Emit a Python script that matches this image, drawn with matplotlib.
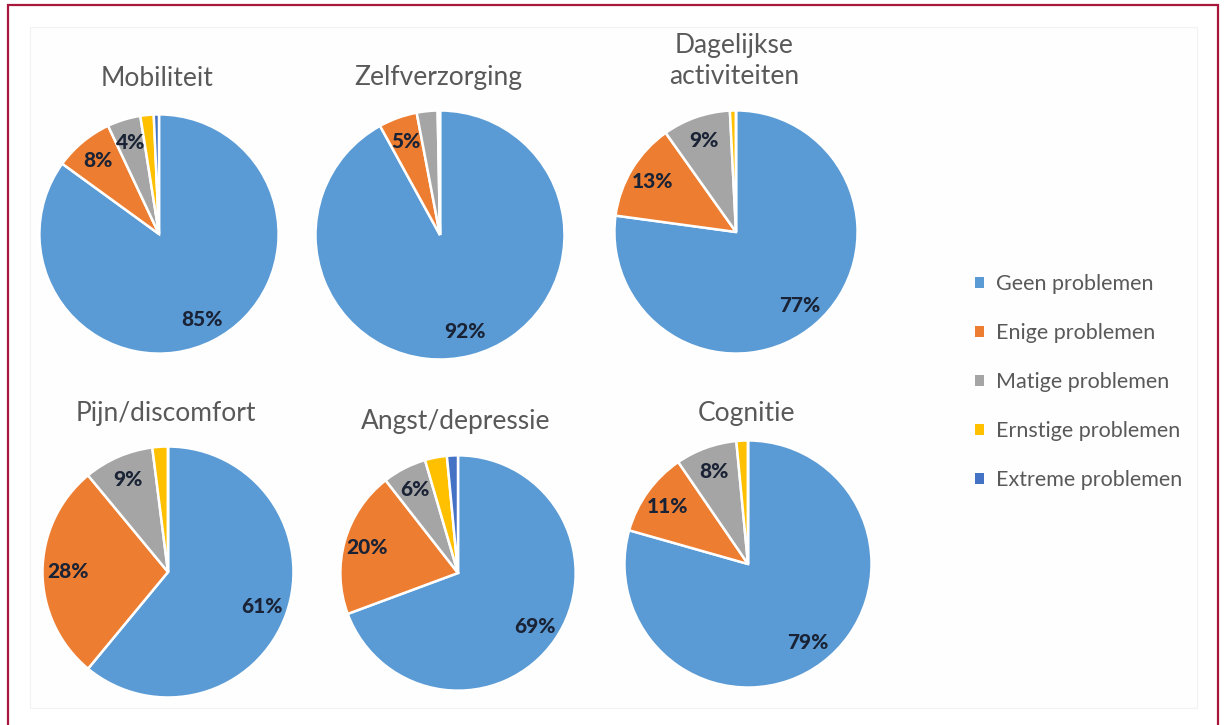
import matplotlib.pyplot as plt
from matplotlib.patches import Rectangle, Patch

plt.rcParams['font.family'] = ['Lato', 'DejaVu Sans']

W, H = 1224, 725

categories = ['Geen problemen', 'Enige problemen', 'Matige problemen',
              'Ernstige problemen', 'Extreme problemen']
colors = ['#5b9bd5', '#ed7d31', '#a5a5a5', '#ffc000', '#4472c4']

titles = ['Mobiliteit', 'Zelfverzorging', 'Dagelijkse\nactiviteiten',
          'Pijn/discomfort', 'Angst/depressie', 'Cognitie']

mobiliteit = [85, 8, 4.5, 1.8, 0.7]
zelfverzorging = [92, 5, 2.7, 0.3, 0]
dagelijks = [77, 13, 9, 0.8, 0]
pijn = [61, 28, 9, 2, 0]
angst = [69, 20, 6, 3, 1.5]
cognitie = [79, 11, 8, 1.5, 0]
series = [mobiliteit, zelfverzorging, dagelijks, pijn, angst, cognitie]

# layout in pixels: pie centre x, centre y, radius, title y
layout = [
    (159, 234, 122, 78),
    (440, 235, 127, 77),
    (736, 232, 124, 61),
    (168, 572, 128, 413),
    (458, 573, 120, 422),
    (748, 564, 126, 413),
]


def fx(x):
    return x / W


def fy(y):
    return 1 - y / H


fig = plt.figure(figsize=(W / 100, H / 100), dpi=100)
fig.patch.set_facecolor('white')

# outer frame and faint inner chart area (behind the pies)
fig.patches.append(Rectangle((fx(8), fy(740)), fx(1218) - fx(8), fy(5) - fy(740),
                             transform=fig.transFigure, fill=False,
                             edgecolor='#a8183c', linewidth=1.6, zorder=-2))
fig.patches.append(Rectangle((fx(30), fy(708)), fx(1197) - fx(30), fy(27) - fy(708),
                             transform=fig.transFigure, facecolor='#fefefe',
                             edgecolor='#f2f2f2', linewidth=0.8, zorder=-2))


def pct_label(p):
    return f'{p:.0f}%' if p >= 3.5 else ''


for vals, title, (cx, cy, r, ty) in zip(series, titles, layout):
    ax = fig.add_axes([fx(cx - r), fy(cy + r), 2 * r / W, 2 * r / H])
    ax.pie(vals, colors=colors, startangle=90, counterclock=False,
           autopct=pct_label, pctdistance=0.8,
           wedgeprops=dict(edgecolor='white', linewidth=1.8),
           textprops=dict(fontsize=15, fontweight='black', color='#1a2335'))
    ax.set_xlim(-1.02, 1.02)
    ax.set_ylim(-1.02, 1.02)
    ax.axis('off')
    fig.text(fx(cx - 2), fy(ty), title, ha='center', va='center',
             fontsize=19, color='#595959', linespacing=1.3)

handles = [Patch(facecolor=c, edgecolor='none') for c in colors]
fig.legend(handles, categories, loc='center left',
           bbox_to_anchor=(fx(956), fy(382)), frameon=False,
           fontsize=15.5, labelcolor='#595959', handlelength=0.4,
           handleheight=0.4, handletextpad=0.55, labelspacing=1.35)

fig.savefig('out.png', dpi=100)
